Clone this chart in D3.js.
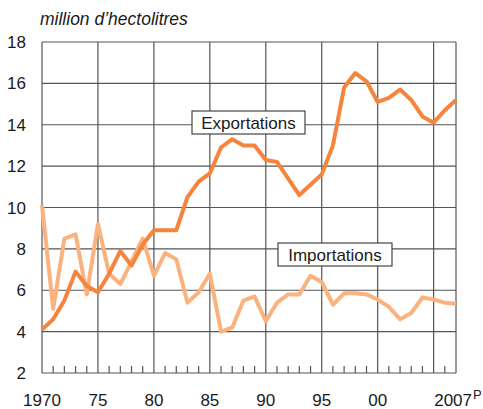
<!DOCTYPE html>
<html><head><meta charset="utf-8">
<script src="https://cdn.jsdelivr.net/npm/d3@7/dist/d3.min.js"></script>
<style>body{margin:0;background:#fff}svg{display:block}text{font-family:"Liberation Sans",Arial,sans-serif;fill:#1a1a1a}</style>
</head><body><svg id="c" width="483" height="409"></svg>
<script>
const years = d3.range(1970, 2008);
const exportations = [4.1,4.6,5.5,6.9,6.2,5.9,6.8,7.9,7.2,8.2,8.9,8.9,8.9,10.5,11.25,11.65,12.9,13.3,13.0,13.0,12.3,12.2,11.4,10.6,11.1,11.6,13.0,15.8,16.5,16.1,15.1,15.3,15.7,15.2,14.4,14.1,14.7,15.2];
const importations = [10.1,5.1,8.5,8.7,5.8,9.2,6.8,6.3,7.4,8.5,6.7,7.8,7.5,5.4,5.9,6.8,4.0,4.2,5.5,5.7,4.5,5.4,5.8,5.8,6.7,6.4,5.3,5.85,5.85,5.8,5.55,5.2,4.6,4.9,5.65,5.55,5.4,5.35];
const yTicks = [2,4,6,8,10,12,14,16,18];
const xTickYears = [1970,1975,1980,1985,1990,1995,2000,2005];
const xTickLabels = ["1970","75","80","85","90","95","00"];
const xLabelYears = [1970,1975,1980,1985,1990,1995,2000];
const lastLabel = "2007", lastSuffix = "P";
const unitLabel = "million d\u2019hectolitres";
const seriesNames = ["Exportations","Importations"];

const svg = d3.select("#c");
const L=42, R=456, T=42, B=373;
const x = d3.scaleLinear().domain([1970,2007]).range([L,R]);
const y = d3.scaleLinear().domain([2,18]).range([B,T]);
const grid = "#555";

svg.append("g").selectAll("line").data(yTicks).join("line")
  .attr("x1",L).attr("x2",R).attr("y1",d=>y(d)).attr("y2",d=>y(d))
  .attr("stroke",grid).attr("stroke-width",1.2);
svg.append("g").selectAll("line").data(xTickYears.concat([2007])).join("line")
  .attr("x1",d=>x(d)).attr("x2",d=>x(d)).attr("y1",T).attr("y2",B)
  .attr("stroke",grid).attr("stroke-width",1.2);
svg.append("g").selectAll("line").data(years.filter(v=>v%5!==0 && v!==2007)).join("line")
  .attr("x1",d=>x(d)).attr("x2",d=>x(d)).attr("y1",B-7).attr("y2",B)
  .attr("stroke",grid).attr("stroke-width",1.2);

svg.append("g").selectAll("text").data(yTicks).join("text")
  .attr("x",26).attr("y",d=>y(d)).attr("dy","0.36em").attr("text-anchor","end")
  .attr("font-size",17).text(d=>d);
svg.append("g").selectAll("text").data(xLabelYears).join("text")
  .attr("x",d=>x(d)).attr("y",406).attr("text-anchor","middle").attr("font-size",17)
  .text((d,i)=>xTickLabels[i]);
svg.append("text").attr("x",x(2007)+16).attr("y",406).attr("text-anchor","end")
  .attr("font-size",17).text(lastLabel);
svg.append("text").attr("x",x(2007)+17).attr("y",399).attr("font-size",13).text(lastSuffix);

svg.append("text").attr("x",40).attr("y",25).attr("font-size",17.5).attr("font-style","italic").text(unitLabel);

const line = d3.line().x((d,i)=>x(years[i])).y(d=>y(d));
svg.append("path").datum(importations).attr("d",line).attr("fill","none")
  .attr("stroke","#fbb27f").attr("stroke-width",4).attr("stroke-linejoin","round");
svg.append("path").datum(exportations).attr("d",line).attr("fill","none")
  .attr("stroke","#f5843d").attr("stroke-width",4).attr("stroke-linejoin","round");

function box(txt, x0, y0, w, h){
  svg.append("rect").attr("x",x0).attr("y",y0).attr("width",w).attr("height",h)
    .attr("fill","#fff").attr("stroke","#444").attr("stroke-width",1.2);
  svg.append("text").attr("x",x0+w/2).attr("y",y0+h/2).attr("dy","0.36em")
    .attr("text-anchor","middle").attr("font-size",17).text(txt);
}
box(seriesNames[0],192,111,113,23);
box(seriesNames[1],278,243,114,23);
</script></body></html>
